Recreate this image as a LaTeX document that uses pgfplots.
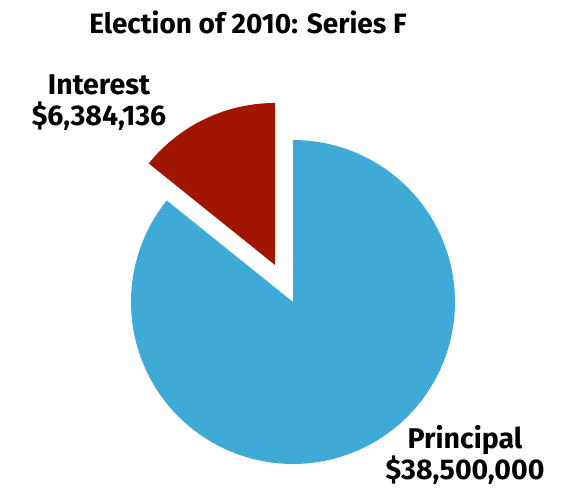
\documentclass[border=0pt]{standalone}
\usepackage{pgfplots}
\pgfplotsset{compat=1.18}
\usepackage{fontspec}
\setmainfont{Fira Sans}
\definecolor{princ}{RGB}{62,170,213}
\definecolor{inter}{RGB}{161,22,0}
% data values
\def\valP{38500000}
\def\valI{6384136}
\pgfkeys{/pgf/fpu=true,/pgf/fpu/output format=fixed}
\pgfmathsetmacro\angI{\valI/(\valI+\valP)*360}
\pgfkeys{/pgf/fpu=false}
\pgfmathsetmacro\aEnd{90+\angI}
\pgfmathsetmacro\aStartP{\aEnd-360}
\begin{document}
\begin{tikzpicture}
\begin{axis}[
  width=563pt, height=489pt, scale only axis,
  xmin=0, xmax=563, ymin=0, ymax=489,
  hide axis, clip=false,
]
\path (0,0) rectangle (563,489);
% Principal
\addplot[fill=princ, draw=none, domain=\aStartP:90, samples=181]
  ({293+162*cos(x)}, {187+162*sin(x)}) -- (293,187) -- cycle;
% Interest (exploded)
\addplot[fill=inter, draw=none, domain=90:\aEnd, samples=61]
  ({275+162*cos(x)}, {224+162*sin(x)}) -- (275,224) -- cycle;
\node[font=\bfseries\fontsize{28}{30}\selectfont] at (248,467) {Election of 2010: Series F};
\node[font=\bfseries\fontsize{28.5}{31}\selectfont, align=center] at (99,386) {Interest\\\$6,384,136};
\node[font=\bfseries\fontsize{28.5}{31}\selectfont, align=center] at (465,34) {Principal\\\$38,500,000};
\end{axis}
\end{tikzpicture}
\end{document}
